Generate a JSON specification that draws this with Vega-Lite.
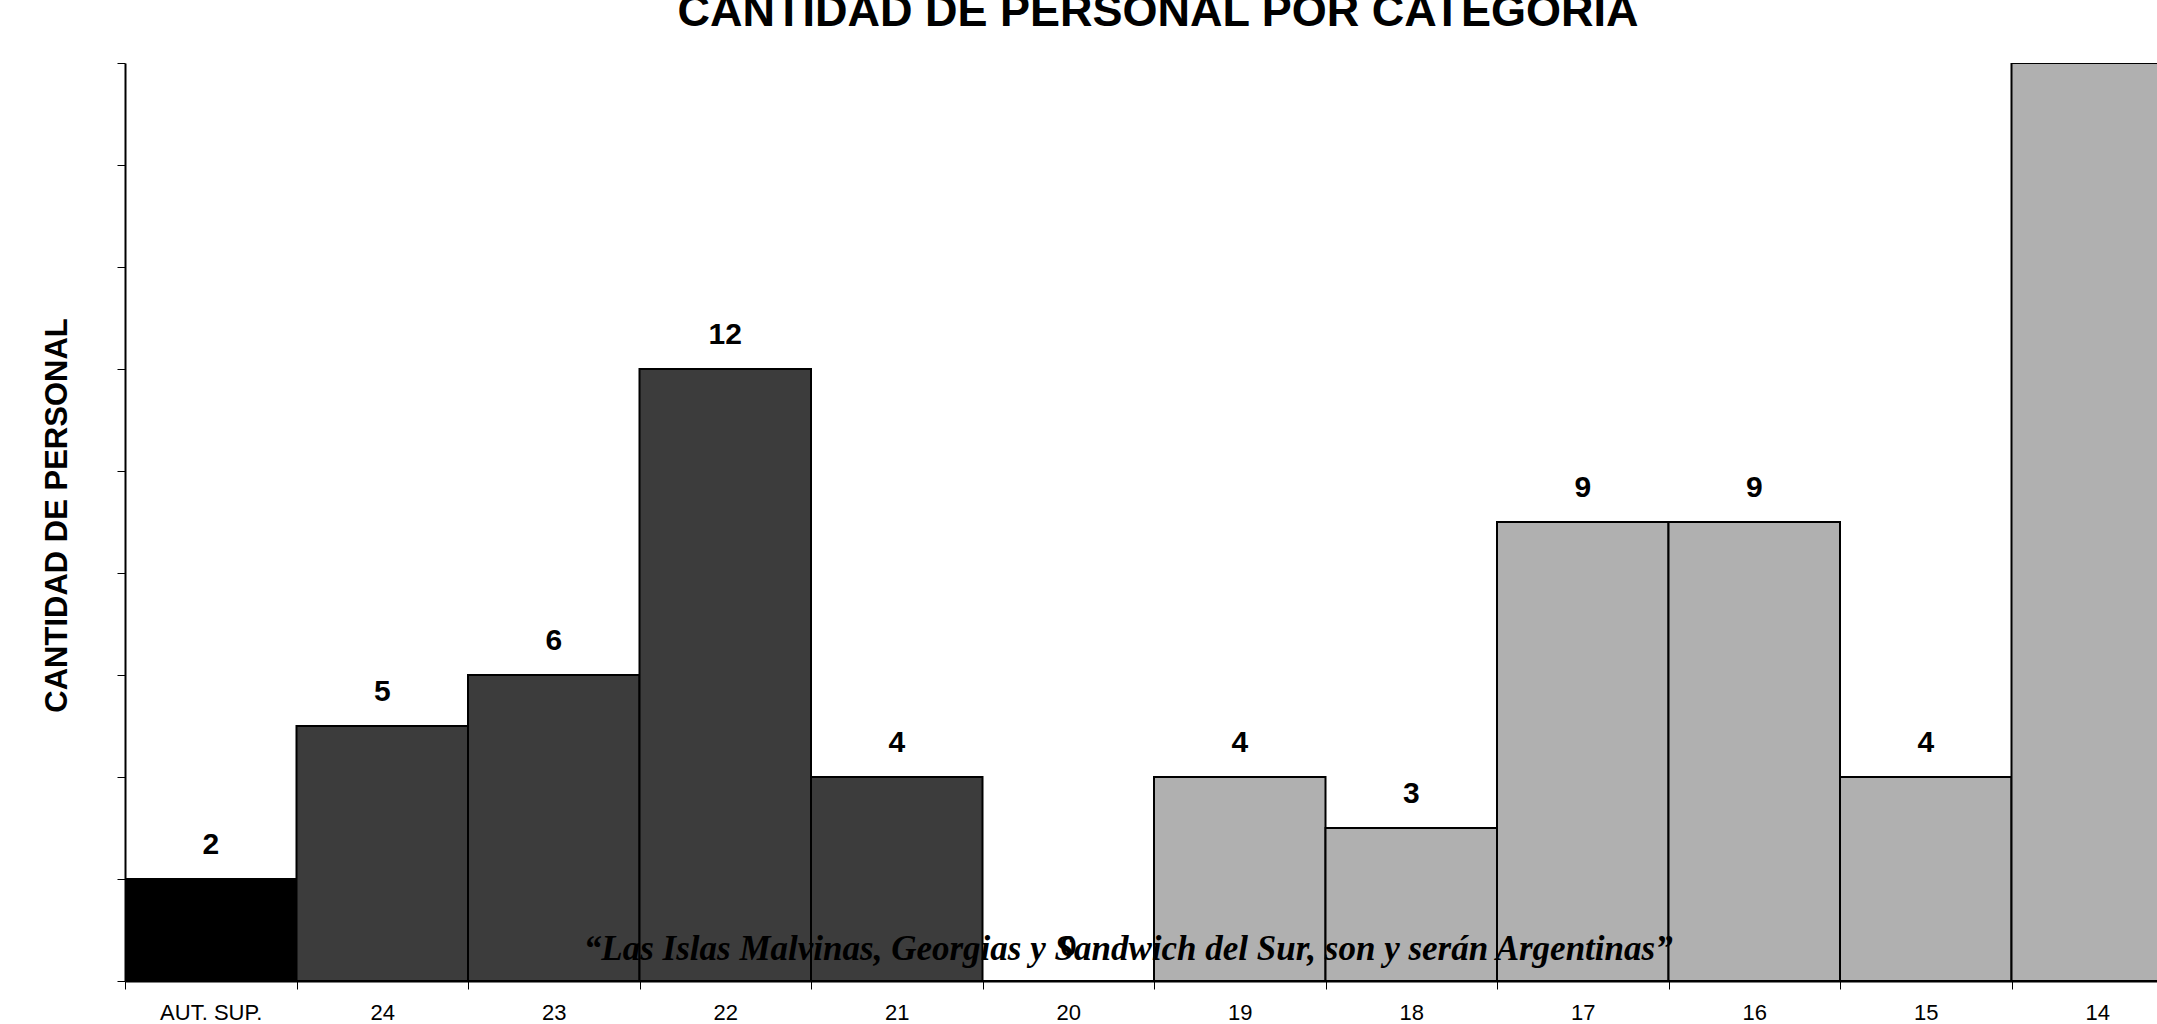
{
  "$schema": "https://vega.github.io/schema/vega-lite/v6.json",
  "autosize": {"type": "none"},
  "width": 2032,
  "height": 918,
  "padding": {"left": 125, "top": 63, "right": 0, "bottom": 43},
  "background": "white",
  "title": {
    "text": "CANTIDAD DE PERSONAL POR CATEGORIA",
    "font": "Liberation Sans",
    "fontSize": 45,
    "fontWeight": "bold",
    "color": "black",
    "anchor": "middle",
    "baseline": "alphabetic",
    "offset": -8,
    "dx": 17
  },
  "data": {
    "values": [
      {"categoria": "AUT. SUP.", "cantidad": 2, "nivel": "Autoridad Superior"},
      {"categoria": "24", "cantidad": 5, "nivel": "Categorías 21 a 24"},
      {"categoria": "23", "cantidad": 6, "nivel": "Categorías 21 a 24"},
      {"categoria": "22", "cantidad": 12, "nivel": "Categorías 21 a 24"},
      {"categoria": "21", "cantidad": 4, "nivel": "Categorías 21 a 24"},
      {"categoria": "20", "cantidad": 0, "nivel": "Categorías 14 a 20"},
      {"categoria": "19", "cantidad": 4, "nivel": "Categorías 14 a 20"},
      {"categoria": "18", "cantidad": 3, "nivel": "Categorías 14 a 20"},
      {"categoria": "17", "cantidad": 9, "nivel": "Categorías 14 a 20"},
      {"categoria": "16", "cantidad": 9, "nivel": "Categorías 14 a 20"},
      {"categoria": "15", "cantidad": 4, "nivel": "Categorías 14 a 20"},
      {"categoria": "14", "cantidad": 18, "nivel": "Categorías 14 a 20"}
    ]
  },
  "encoding": {
    "x": {
      "field": "categoria",
      "type": "nominal",
      "sort": null,
      "scale": {"range": [0, 2058], "paddingInner": 0, "paddingOuter": 0},
      "axis": {
        "title": null,
        "labelAngle": 0,
        "labelFont": "Liberation Sans",
        "labelFontSize": 22,
        "labelColor": "black",
        "labelPadding": 13,
        "tickBand": "extent",
        "tickSize": 8,
        "tickColor": "black",
        "domainColor": "black",
        "domainWidth": 2,
        "grid": false
      }
    },
    "y": {
      "field": "cantidad",
      "type": "quantitative",
      "scale": {"domain": [0, 18], "nice": false},
      "axis": {
        "title": "CANTIDAD DE PERSONAL",
        "titleFont": "Liberation Sans",
        "titleFontSize": 31,
        "titleFontWeight": "bold",
        "titleColor": "black",
        "titleBaseline": "alphabetic",
        "titlePadding": 50,
        "titleY": 452,
        "labels": false,
        "values": [0, 2, 4, 6, 8, 10, 12, 14, 16, 18],
        "tickSize": 8,
        "tickColor": "black",
        "domainColor": "black",
        "domainWidth": 2,
        "grid": false
      }
    }
  },
  "layer": [
    {
      "mark": {"type": "bar", "stroke": "black", "strokeWidth": 2, "clip": true},
      "encoding": {
        "color": {
          "field": "nivel",
          "type": "nominal",
          "scale": {
            "domain": ["Autoridad Superior", "Categorías 21 a 24", "Categorías 14 a 20"],
            "range": ["#000000", "#3c3c3c", "#b0b0b0"]
          },
          "legend": null
        }
      }
    },
    {
      "mark": {
        "type": "text",
        "font": "Liberation Sans",
        "fontSize": 30,
        "fontWeight": "bold",
        "color": "black",
        "baseline": "alphabetic",
        "dy": -25,
        "clip": true
      },
      "encoding": {"text": {"field": "cantidad", "type": "quantitative"}}
    },
    {
      "data": {"values": [{"categoria": "20", "cantidad": 0, "lema": "“Las Islas Malvinas, Georgias y Sandwich del Sur, son y serán Argentinas”"}]},
      "mark": {
        "type": "text",
        "font": "Liberation Serif",
        "fontSize": 35,
        "fontWeight": "bold",
        "fontStyle": "italic",
        "color": "black",
        "baseline": "alphabetic",
        "align": "center",
        "dx": 60,
        "dy": -21
      },
      "encoding": {
        "text": {"field": "lema", "type": "nominal"}
      }
    }
  ],
  "config": {"view": {"stroke": null}}
}
